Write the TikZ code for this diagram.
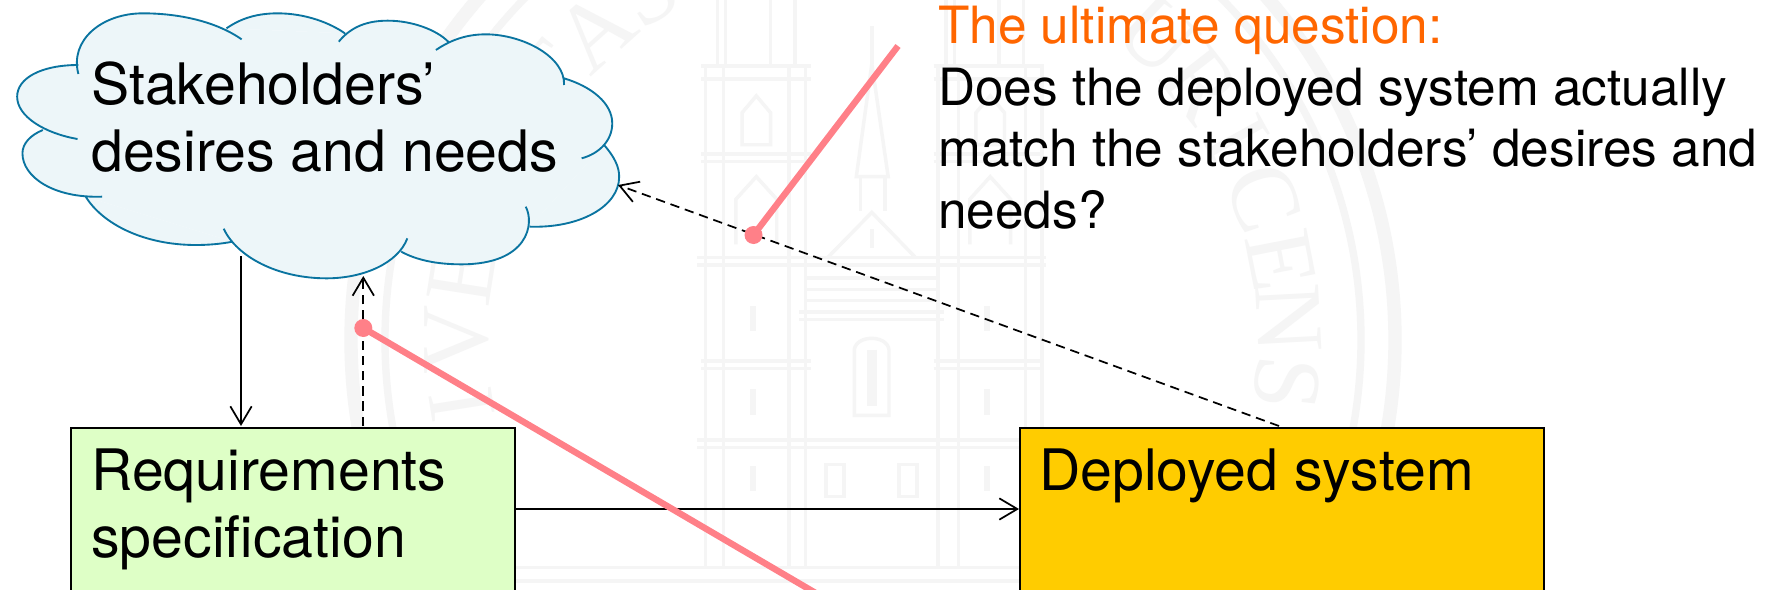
\documentclass[tikz,border=0pt]{standalone}
\usepackage{fontspec}
\setmainfont{TeX Gyre Heros}
\newfontfamily\wmfont{Liberation Serif}
\usetikzlibrary{arrows.meta}
\definecolor{cloudfill}{HTML}{EDF6F9}
\definecolor{cloudline}{HTML}{0A74A0}
\definecolor{reqfill}{HTML}{DEFFC6}
\definecolor{depfill}{HTML}{FFCC00}
\definecolor{callout}{HTML}{FF8088}
\definecolor{orangetxt}{HTML}{FF6600}
\definecolor{wm}{HTML}{F5F5F5}
\tikzset{
  boxstyle/.style={draw=black,line width=1.4pt,rectangle,inner sep=0pt,anchor=north west},
  bigtext/.style={font=\fontsize{42.9pt}{50.25pt}\selectfont,align=left,inner sep=0pt,anchor=base west},
  qtext/.style={font=\fontsize{38.5pt}{46.1pt}\selectfont,align=left,inner sep=0pt,anchor=base west},
  flow/.style={draw=black,line width=1.3pt,-{Straight Barb[length=13.5pt,width=16pt,line width=1.3pt]}},
  flowdash/.style={flow,dash pattern=on 7pt off 4.4pt},
  calloutline/.style={draw=callout,line width=4.8pt},
  calloutdot/.style={circle,fill=callout,inner sep=0pt,minimum size=13.5pt},
  wmline/.style={draw=wm,line width=2.6pt},
  wmletter/.style={text=wm,font=\wmfont\fontsize{72pt}{72pt}\selectfont,inner sep=0pt},
  cloudedge/.style={draw=cloudline,line width=1.4pt},
}
\def\lobeA{(192,222) .. controls (170,120) and (250,40) .. (350,40) .. controls (440,40) and (530,65) .. (592,118)}
\def\lobeB{(555,85) .. controls (590,55) and (630,40) .. (680,40) .. controls (750,40) and (810,70) .. (845,100)}
\def\lobeC{(830,125) .. controls (860,80) and (900,62) .. (950,62) .. controls (1010,62) and (1070,90) .. (1098,125)}
\def\lobeD{(1068,150) .. controls (1110,115) and (1150,103) .. (1190,103) .. controls (1280,103) and (1385,170) .. (1382,255)}
\def\lobeE{(1382,235) .. controls (1450,260) and (1500,310) .. (1500,370) .. controls (1500,420) and (1470,460) .. (1425,475)}
\def\lobeF{(1480,435) .. controls (1505,470) and (1517,500) .. (1517,530) .. controls (1517,620) and (1420,685) .. (1298,680)}
\def\lobeG{(1288,620) .. controls (1310,670) and (1295,793) .. (1130,793) .. controls (1070,793) and (1020,780) .. (983,755)}
\def\lobeH{(998,715) .. controls (975,790) and (890,835) .. (800,835) .. controls (680,835) and (580,770) .. (548,686)}
\def\lobeI{(570,725) .. controls (540,732) and (510,735) .. (480,735) .. controls (350,735) and (250,670) .. (210,590)}
\def\lobeJ{(250,590) .. controls (130,595) and (55,530) .. (55,460) .. controls (55,430) and (75,405) .. (105,390)}
\def\lobeK{(190,417) .. controls (110,400) and (42,350) .. (42,290) .. controls (42,235) and (100,195) .. (192,195)}
\begin{document}
\begin{tikzpicture}[x=0.75pt,y=-0.75pt]
\useasboundingbox (0,0) rectangle (1766,589);
\clip (0,0) rectangle (1766,589);
\fill[white] (0,0) rectangle (1766,589);

% watermark seal
\draw[draw=wm,line width=10pt] (873,340) circle [radius=522];
\draw[draw=wm,line width=5.5pt] (873,340) circle [radius=488];
\foreach \ltr/\ang/\idx in {T/141/a,A/132/b,S/123/c,E/171/d,V/180/e,I/189/f,U/47/g,R/38/h,I/29/i,C/20/j,E/11/k,N/3/l,S/-6/m}{
  \pgfmathsetmacro{\wx}{873+416*cos(\ang)}
  \pgfmathsetmacro{\wy}{340-416*sin(\ang)}
  \pgfmathsetmacro{\wr}{\ang-90}
  \node[wmletter,rotate=\wr] (wm\idx) at (\wx,\wy) {\ltr};
}
% watermark church
\begin{scope}[xshift=480pt,x=0.30612pt,y=-0.28195pt]
  \foreach \vx in {160,205,365,405,730,780,945,985}{\draw[wmline] (\vx,175) -- (\vx,1510);}
  \foreach \vx in {190,210,320,380,750,770,880,940}{\draw[wmline] (\vx,-10) -- (\vx,175);}
  \foreach \hy in {175,210,410,430,960,980}{
    \draw[wmline] (150,\hy) -- (420,\hy);
    \draw[wmline] (720,\hy) -- (990,\hy);}
  \foreach \hy in {685,705,1170,1190}{\draw[wmline] (140,\hy) -- (995,\hy);}
  \foreach \hy in {740,770,800}{\draw[wmline] (410,\hy) -- (725,\hy);}
  \foreach \hy in {830,850}{\draw[wmline] (390,\hy) -- (745,\hy);}
  \foreach \hy in {1510,1545}{\draw[wmline] (-400,\hy) -- (1700,\hy);}
  \draw[wmline] (460,685) -- (568,565) -- (675,685);
  \draw[wmline] (530,470) -- (568,170) -- (608,470) -- cycle;
  \draw[wmline] (568,70) -- (568,170);
  \draw[wmline] (540,470) -- (540,560) (600,470) -- (600,560);
  \draw[wmline] (568,610) -- (568,660);
  % large window
  \draw[wmline] (525,1105) -- (525,930) .. controls (530,890) and (605,890) .. (610,930) -- (610,1105) -- cycle;
  \draw[wm,line width=7pt] (568,930) -- (568,1080);
  % tower windows
  \foreach \wxa in {285,858}{
    \draw[wmline] (\wxa-35,385) -- (\wxa-35,300) -- (\wxa,255) -- (\wxa+35,300) -- (\wxa+35,385) -- cycle;
    \draw[wmline] (\wxa-50,650) -- (\wxa-50,530) -- (\wxa,470) -- (\wxa+50,530) -- (\wxa+50,650);
    \draw[wm,line width=5pt] (\wxa-8,815) -- (\wxa-8,880);
    \draw[wm,line width=5pt] (\wxa-8,1035) -- (\wxa-8,1105);
    \draw[wm,line width=5pt] (\wxa-8,1240) -- (\wxa-8,1305);
  }
  \foreach \wxa in {478,657}{
    \draw[wmline] (\wxa-22,1320) -- (\wxa-22,1235) -- (\wxa+22,1235) -- (\wxa+22,1320) -- cycle;
  }
\end{scope}

% boxes
\node[boxstyle,fill=reqfill,minimum width=333pt,minimum height=200pt] (req) at (70,426.7) {};
\node[boxstyle,fill=depfill,minimum width=393pt,minimum height=200pt] (dep) at (1019,426.7) {};

% cloud
\begin{scope}[x=0.30612pt,y=-0.25pt]
  \fill[cloudfill] (190,195) -- (555,85) -- (845,100) -- (1098,125) -- (1382,235) -- (1480,435) -- (1298,680) -- (983,755) -- (570,725) -- (210,590) -- (105,390) -- cycle;
  \fill[cloudfill] \lobeA \lobeB \lobeC \lobeD \lobeE \lobeF \lobeG \lobeH \lobeI \lobeJ \lobeK;
  \draw[cloudedge] \lobeA \lobeB \lobeC \lobeD \lobeE \lobeF \lobeG \lobeH \lobeI \lobeJ \lobeK;
\end{scope}

% anchor points on the cloud and the page edge
\coordinate (cloudDown) at (241,256);
\coordinate (cloudUp) at (363.3,276);
\coordinate (cloudRight) at (618,185);
\coordinate (reqDown) at (241,426);
\coordinate (reqUp) at (363.3,426);
\coordinate (depUp) at (1279,426);
\coordinate (depLeft) at (1019,509);
\coordinate (reqRight) at (514,509);
\coordinate (calloutEndA) at (898,46);
\coordinate (calloutEndB) at (860,619);

% connectors
\draw[flow] (cloudDown) -- (reqDown);
\draw[flowdash] (reqUp) -- (cloudUp);
\draw[flowdash] (depUp) -- (cloudRight);
\draw[flow] (reqRight) -- (depLeft);

% texts
\node[bigtext] (cloudText) at (91,171) {Stakeholders’\\desires and needs};
\node[bigtext] (reqText) at (91,557) {Requirements\\specification};
\node[bigtext] (depText) at (1039,490) {Deployed system};
\node[qtext] (question) at (938,228) {\textcolor{orangetxt}{The ultimate question:}\\Does the deployed system actually\\match the stakeholders’ desires and\\needs?};

% callouts
\node[calloutdot] (dotA) at (753.5,235) {};
\node[calloutdot] (dotB) at (363.3,328) {};
\draw[calloutline] (dotA.center) -- (calloutEndA);
\draw[calloutline] (dotB.center) -- (calloutEndB);
\end{tikzpicture}
\end{document}
